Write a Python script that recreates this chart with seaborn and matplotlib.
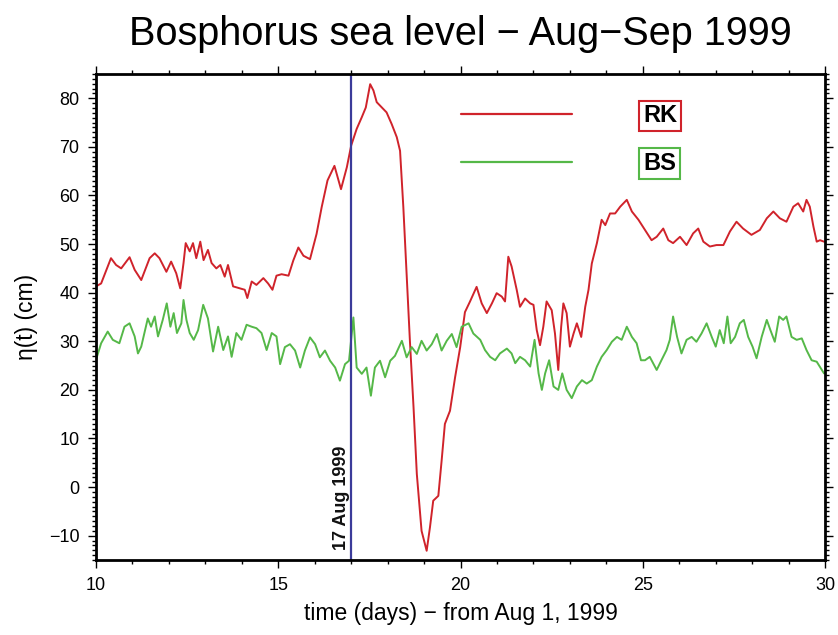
import pandas as pd
import numpy as np
import matplotlib
matplotlib.use('Agg')
import matplotlib.pyplot as plt
from matplotlib.ticker import MultipleLocator
import seaborn as sns

# RK station - time (days from Aug 1, 1999) and sea level (cm)
rk_days = [10.00, 10.14, 10.41, 10.55, 10.69, 10.92, 11.06, 11.24, 11.47, 11.61,
           11.74, 11.93, 12.06, 12.20, 12.31, 12.40, 12.46, 12.57, 12.66, 12.75,
           12.86, 12.95, 13.07, 13.17, 13.30, 13.41, 13.53, 13.62, 13.76, 13.94,
           14.08, 14.15, 14.27, 14.40, 14.59, 14.72, 14.84, 14.95, 15.09, 15.28,
           15.41, 15.55, 15.69, 15.87, 16.05, 16.19, 16.35, 16.54, 16.72, 16.88,
           17.00, 17.15, 17.29, 17.40, 17.52, 17.61, 17.70, 17.84, 17.97, 18.11,
           18.25, 18.34, 18.43, 18.52, 18.61, 18.71, 18.80, 18.93, 19.07, 19.16,
           19.25, 19.39, 19.48, 19.57, 19.71, 19.85, 19.99, 20.12, 20.26, 20.44,
           20.58, 20.72, 20.86, 20.99, 21.13, 21.22, 21.31, 21.40, 21.54, 21.63,
           21.77, 21.91, 22.00, 22.09, 22.18, 22.27, 22.36, 22.50, 22.59, 22.68,
           22.76, 22.82, 22.91, 23.00, 23.10, 23.19, 23.31, 23.42, 23.51, 23.60,
           23.74, 23.87, 23.97, 24.10, 24.24, 24.38, 24.56, 24.70, 24.88, 25.06,
           25.24, 25.38, 25.56, 25.70, 25.83, 26.02, 26.20, 26.38, 26.52, 26.66,
           26.84, 27.02, 27.21, 27.39, 27.57, 27.75, 27.98, 28.21, 28.40, 28.58,
           28.76, 28.94, 29.13, 29.26, 29.40, 29.49, 29.58, 29.68, 29.77, 29.86,
           29.97]
rk_level = [41.3, 41.9, 47.1, 45.7, 45.0, 47.3, 44.7, 42.6, 47.1, 48.1,
            47.1, 44.3, 46.4, 44.0, 40.9, 46.1, 50.2, 48.5, 50.2, 47.1,
            50.5, 46.7, 48.8, 46.1, 45.0, 45.7, 43.3, 45.7, 41.3, 40.9,
            40.6, 38.9, 42.3, 41.6, 43.0, 41.9, 40.6, 43.5, 43.8, 43.5,
            46.6, 49.3, 47.6, 46.9, 52.1, 57.6, 63.1, 66.1, 61.3, 65.8,
            70.3, 73.7, 76.1, 78.1, 82.9, 81.6, 79.2, 78.1, 77.1, 74.7,
            72.0, 69.2, 57.6, 43.8, 30.1, 16.4, 2.7, -9.0, -13.1, -8.3,
            -2.8, -1.8, 5.4, 13.0, 15.7, 22.6, 28.8, 36.0, 38.2, 41.2,
            37.8, 35.8, 37.8, 39.9, 39.2, 38.2, 47.4, 45.4, 40.6, 37.1,
            38.8, 37.8, 37.5, 32.3, 29.2, 33.0, 38.2, 36.4, 31.6, 24.1,
            33.0, 37.8, 35.8, 28.9, 31.6, 33.7, 30.9, 37.1, 40.6, 46.0,
            50.2, 55.0, 53.9, 56.3, 56.3, 57.7, 59.1, 56.7, 55.0, 52.9,
            50.8, 51.5, 53.2, 50.8, 50.2, 51.5, 49.8, 52.2, 53.2, 50.5,
            49.5, 49.8, 49.8, 52.6, 54.6, 53.2, 51.9, 52.9, 55.3, 56.7,
            55.3, 54.6, 57.7, 58.4, 56.7, 59.1, 57.7, 53.6, 50.5, 50.8,
            50.5]

# BS station
bs_days = [10.00, 10.14, 10.32, 10.46, 10.64, 10.78, 10.92, 11.06, 11.15, 11.24,
           11.42, 11.51, 11.61, 11.70, 11.83, 11.94, 12.04, 12.13, 12.22, 12.34,
           12.40, 12.48, 12.57, 12.68, 12.80, 12.94, 13.07, 13.21, 13.35, 13.49,
           13.62, 13.72, 13.85, 13.99, 14.13, 14.27, 14.40, 14.54, 14.68, 14.82,
           14.95, 15.05, 15.18, 15.32, 15.46, 15.60, 15.73, 15.87, 16.01, 16.14,
           16.28, 16.42, 16.56, 16.69, 16.83, 16.94, 17.06, 17.15, 17.29, 17.42,
           17.54, 17.65, 17.79, 17.93, 18.07, 18.20, 18.39, 18.52, 18.66, 18.80,
           18.93, 19.07, 19.21, 19.35, 19.48, 19.62, 19.76, 19.89, 20.03, 20.22,
           20.35, 20.54, 20.67, 20.81, 20.95, 21.08, 21.27, 21.40, 21.50, 21.63,
           21.77, 21.91, 22.03, 22.14, 22.23, 22.32, 22.43, 22.55, 22.68, 22.79,
           22.91, 23.05, 23.19, 23.33, 23.46, 23.60, 23.74, 23.87, 24.01, 24.15,
           24.29, 24.42, 24.56, 24.70, 24.83, 24.95, 25.06, 25.19, 25.38, 25.51,
           25.65, 25.74, 25.83, 25.94, 26.06, 26.20, 26.34, 26.47, 26.61, 26.75,
           26.89, 27.00, 27.11, 27.22, 27.32, 27.41, 27.53, 27.66, 27.77, 27.89,
           28.01, 28.12, 28.26, 28.40, 28.50, 28.62, 28.74, 28.85, 28.94, 29.08,
           29.22, 29.36, 29.49, 29.63, 29.77, 29.97]
bs_level = [26.2, 29.6, 32.0, 30.3, 29.6, 33.0, 33.7, 31.0, 27.5, 28.9,
            34.7, 33.0, 35.1, 31.0, 34.4, 37.8, 33.0, 35.8, 31.7, 33.7,
            38.5, 34.4, 31.7, 30.3, 32.3, 37.5, 34.7, 27.9, 33.0, 28.2,
            31.0, 26.8, 31.7, 30.3, 33.4, 33.0, 32.7, 31.7, 28.2, 31.7,
            31.0, 25.3, 28.8, 29.4, 28.1, 24.6, 28.1, 30.8, 29.4, 26.7,
            28.1, 26.0, 24.6, 21.9, 25.3, 26.0, 34.9, 24.6, 23.3, 24.6,
            18.8, 24.6, 26.0, 22.6, 26.0, 27.0, 30.1, 26.7, 28.8, 27.4,
            30.1, 28.1, 29.4, 31.5, 28.1, 30.1, 31.5, 28.8, 33.0, 33.7,
            31.6, 30.3, 28.2, 26.8, 26.1, 27.5, 28.5, 27.5, 25.5, 26.8,
            26.1, 24.8, 30.3, 23.4, 20.0, 23.4, 26.1, 20.7, 20.0, 23.4,
            20.0, 18.3, 20.7, 22.0, 21.3, 22.0, 24.8, 26.8, 28.2, 29.9,
            30.9, 30.3, 33.0, 30.9, 29.6, 26.1, 26.1, 26.8, 24.1, 26.1,
            28.2, 30.3, 35.1, 30.9, 27.5, 30.3, 30.9, 29.9, 31.6, 33.7,
            30.9, 28.9, 32.3, 29.6, 35.1, 29.6, 30.9, 33.7, 34.4, 30.9,
            28.9, 26.5, 30.9, 34.4, 32.3, 29.9, 35.1, 34.4, 35.1, 30.9,
            30.3, 30.6, 28.2, 26.1, 25.8, 23.4]

quake_day = 17.0

rk = pd.DataFrame({'day': rk_days, 'level': rk_level})
bs = pd.DataFrame({'day': bs_days, 'level': bs_level})

sns.set_style("white")
plt.rcParams['font.family'] = ['Liberation Sans', 'DejaVu Sans']
plt.rcParams['text.color'] = 'black'
plt.rcParams['axes.labelcolor'] = 'black'
plt.rcParams['xtick.color'] = 'black'
plt.rcParams['ytick.color'] = 'black'

red = '#d0232b'
green = '#55b848'

fig = plt.figure(figsize=(8.38, 6.35), dpi=100)
ax = fig.add_axes([0.1146, 0.1181, 0.8700, 0.7654])

sns.lineplot(data=rk, x='day', y='level', color=red, lw=1.4, ax=ax,
             label='RK', sort=False, estimator=None)
sns.lineplot(data=bs, x='day', y='level', color=green, lw=1.4, ax=ax,
             label='BS', sort=False, estimator=None)

# earthquake marker
ax.axvline(quake_day, color='#3b3b9a', lw=1.6)
ax.text(quake_day - 0.04, -13.0, '17 Aug 1999', rotation=90, ha='right',
        va='bottom', fontsize=13, fontweight='bold', color='#111111')

ax.set_xlim(10, 30)
ax.set_ylim(-15, 85)
ax.xaxis.set_major_locator(MultipleLocator(5))
ax.xaxis.set_minor_locator(MultipleLocator(1))
ax.yaxis.set_major_locator(MultipleLocator(10))
ax.yaxis.set_minor_locator(MultipleLocator(1))
ax.tick_params(which='both', direction='out', top=True, right=True,
               bottom=True, left=True, width=1.0, color='black')
ax.tick_params(which='major', length=6, labelsize=13, pad=6)
ax.tick_params(which='minor', length=3)
ax.tick_params(axis='x', labeltop=False)
ax.tick_params(axis='y', labelright=False)
for s in ax.spines.values():
    s.set_linewidth(2.0)
    s.set_color('black')

ax.set_title('Bosphorus sea level \u2212 Aug\u2212Sep 1999', fontsize=28.5, pad=21)
ax.set_xlabel('time (days) \u2212 from Aug 1, 1999', fontsize=16.5, labelpad=6)
ax.set_ylabel('\u03b7(t) (cm)', fontsize=16.5, labelpad=8)

leg = ax.legend(loc='upper left', bbox_to_anchor=(0.472, 0.981), frameon=False,
                handlelength=4.7, handletextpad=3.0, labelspacing=1.05,
                prop={'size': 17, 'weight': 'bold'})
for t, c in zip(leg.get_texts(), [red, green]):
    t.set_color('black')
    t.set_bbox(dict(facecolor='white', edgecolor=c, lw=1.5, pad=2.8))
for h in leg.get_lines():
    h.set_linewidth(1.6)

plt.savefig('out.png', dpi=100)
print("Figure save: out.png")
